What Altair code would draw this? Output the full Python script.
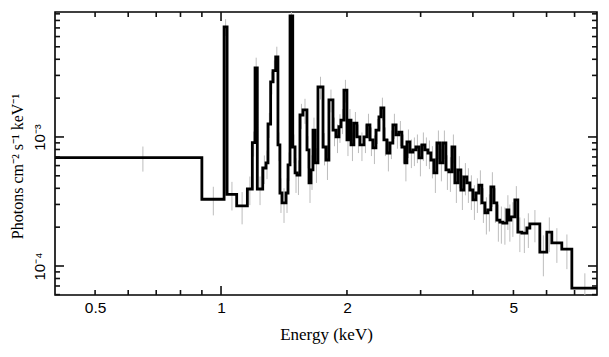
import math
import altair as alt
import pandas as pd

# Bin edges (keV) of the step spectrum
edges = [0.401, 0.90, 1.017, 1.034, 1.090, 1.156, 1.188, 1.206, 1.221, 1.258, 1.281,
         1.295, 1.314, 1.331, 1.351, 1.368, 1.383, 1.399, 1.430, 1.446, 1.462, 1.484,
         1.503, 1.519, 1.544, 1.570, 1.605, 1.623, 1.641, 1.659, 1.677, 1.705, 1.753,
         1.782, 1.811, 1.852, 1.883, 1.914, 1.935, 1.967, 2.000, 2.022, 2.045, 2.078,
         2.113, 2.148, 2.196, 2.233, 2.270, 2.307, 2.346, 2.385, 2.411, 2.451, 2.492,
         2.533, 2.575, 2.619, 2.662, 2.706, 2.751, 2.782, 2.828, 2.875, 2.923, 2.972,
         3.021, 3.071, 3.123, 3.175, 3.227, 3.281, 3.336, 3.391, 3.448, 3.505, 3.564,
         3.622, 3.683, 3.744, 3.807, 3.870, 3.934, 4.000, 4.067, 4.134, 4.203, 4.273,
         4.344, 4.416, 4.490, 4.564, 4.640, 4.718, 4.823, 4.876, 4.930, 5.039, 5.123,
         5.237, 5.383, 5.473, 5.782, 6.009, 6.176, 6.525, 6.896, 7.92]

# Flux per bin (photons cm^-2 s^-1 keV^-1)
flux = [6.91e-4, 3.29e-4, 7.12e-3, 3.59e-4, 2.92e-4, 3.95e-4, 9.03e-4, 3.43e-3, 3.95e-4, 5.75e-4,
        6.29e-4, 1.26e-3, 2.67e-3, 3.27e-3, 4.17e-3, 8.67e-4, 3.68e-4, 3.08e-4, 3.68e-4, 6.07e-4,
        8.67e-3, 8.36e-4, 5.26e-4, 5.07e-4, 1.48e-3, 1.62e-3, 7.93e-4, 4.40e-4, 5.55e-4, 1.13e-3,
        6.29e-4, 2.44e-3, 8.36e-4, 6.63e-4, 1.94e-3, 1.13e-3, 1.00e-3, 1.20e-3, 1.35e-3, 2.31e-3,
        9.48e-4, 1.35e-3, 8.67e-4, 1.28e-3, 1.00e-3, 8.67e-4, 1.00e-3, 1.24e-3, 9.48e-4, 8.22e-4,
        1.13e-3, 1.43e-3, 1.68e-3, 9.48e-4, 7.51e-4, 8.98e-4, 1.24e-3, 1.04e-3, 1.09e-3, 8.36e-4,
        6.29e-4, 9.15e-4, 7.65e-4, 7.93e-4, 8.36e-4, 6.88e-4, 8.67e-4, 7.93e-4, 7.51e-4, 6.63e-4,
        5.26e-4, 8.98e-4, 6.29e-4, 8.98e-4, 5.55e-4, 5.36e-4, 8.36e-4, 4.40e-4, 5.55e-4, 3.88e-4,
        4.90e-4, 4.40e-4, 3.88e-4, 3.25e-4, 3.68e-4, 4.24e-4, 3.08e-4, 2.58e-4, 2.72e-4, 4.10e-4,
        3.08e-4, 2.27e-4, 2.19e-4, 2.15e-4, 2.72e-4, 2.27e-4, 2.40e-4, 3.25e-4, 1.83e-4, 1.80e-4,
        1.97e-4, 2.12e-4, 1.28e-4, 1.83e-4, 1.51e-4, 1.35e-4, 6.75e-5]

# Relative 1-sigma error per bin
err = [0.22, 0.25, 0.15, 0.25, 0.28, 0.25, 0.22, 0.20, 0.25, 0.25,
       0.25, 0.22, 0.20, 0.20, 0.20, 0.25, 0.30, 0.30, 0.30, 0.25,
       0.12, 0.25, 0.30, 0.30, 0.22, 0.22, 0.28, 0.30, 0.30, 0.25,
       0.30, 0.20, 0.28, 0.30, 0.20, 0.25, 0.25, 0.25, 0.22, 0.20,
       0.25, 0.22, 0.25, 0.22, 0.25, 0.25, 0.25, 0.22, 0.25, 0.25,
       0.22, 0.20, 0.20, 0.25, 0.28, 0.25, 0.22, 0.22, 0.22, 0.25,
       0.28, 0.25, 0.25, 0.25, 0.25, 0.28, 0.25, 0.25, 0.25, 0.28,
       0.30, 0.25, 0.28, 0.25, 0.30, 0.30, 0.25, 0.30, 0.28, 0.30,
       0.28, 0.30, 0.30, 0.30, 0.30, 0.30, 0.30, 0.32, 0.32, 0.30,
       0.30, 0.32, 0.32, 0.32, 0.30, 0.32, 0.30, 0.28, 0.30, 0.30,
       0.30, 0.28, 0.35, 0.30, 0.30, 0.30, 0.30]

x_labels = [0.5, 1, 2, 5]
y_labels = [1e-4, 1e-3]
x_minor = [0.5, 0.6, 0.7, 0.8, 0.9, 2, 3, 4, 5, 6, 7]
x_major = [1]
y_minor = [6e-5, 7e-5, 8e-5, 9e-5, 2e-4, 3e-4, 4e-4, 5e-4, 6e-4, 7e-4, 8e-4, 9e-4,
           2e-3, 3e-3, 4e-3, 5e-3, 6e-3, 7e-3, 8e-3, 9e-3]
y_major = [1e-4, 1e-3]

X_MIN, X_MAX = 0.401, 7.92
Y_MIN, Y_MAX = 5.96e-5, 9.3e-3

n = len(flux)
line_df = pd.DataFrame({"E": edges, "F": flux + [flux[-1]]})
err_df = pd.DataFrame({
    "Em": [(edges[i] + edges[i + 1]) / 2 for i in range(n)],
    "lo": [flux[i] * (1 - err[i]) for i in range(n)],
    "hi": [flux[i] * (1 + err[i]) for i in range(n)],
})

W, H = 542, 283
xs = alt.Scale(type="log", domain=[X_MIN, X_MAX], nice=False)
ys = alt.Scale(type="log", domain=[Y_MIN, Y_MAX], nice=False)


# factor spanning a number of pixels on each log axis
def fx(px):
    return 10 ** (px * math.log10(X_MAX / X_MIN) / W)


def fy(px):
    return 10 ** (px * math.log10(Y_MAX / Y_MIN) / H)


MINOR, MAJOR = 5, 9

main = alt.Chart(line_df).mark_line(interpolate="step-after", color="black",
                                    strokeWidth=2.8, clip=True).encode(
    x=alt.X("E:Q", scale=xs, axis=alt.Axis(
        orient="bottom", values=x_labels, format="~g", ticks=False, domain=False,
        grid=False, title="Energy (keV)", labelPadding=5, titlePadding=11,
        labelFontSize=15.5, titleFontSize=17)),
    y=alt.Y("F:Q", scale=ys, axis=alt.Axis(
        orient="left", values=y_labels, ticks=False, domain=False, grid=False,
        labelExpr="datum.value < 0.0005 ? '10⁻⁴' : '10⁻³'",
        labelAngle=-90, labelAlign="center", labelBaseline="bottom",
        labelPadding=8, titlePadding=7, labelFontSize=15,
        titleFontSize=16, titleY=154,
        title="Photons cm⁻² s⁻¹ keV⁻¹")),
)

errbars = alt.Chart(err_df).mark_rule(color="#bdbdbd", strokeWidth=1, clip=True).encode(
    x=alt.X("Em:Q", scale=xs),
    y=alt.Y("lo:Q", scale=ys),
    y2="hi:Q",
)


def xticks(values, y0, y1):
    return alt.Chart(pd.DataFrame({"v": values})).mark_rule(
        color="#111111", strokeWidth=1.6).encode(
        x=alt.X("v:Q", scale=xs), y=alt.Y(datum=y0, scale=ys), y2=alt.Y2(datum=y1))


def yticks(values, x0, x1):
    return alt.Chart(pd.DataFrame({"v": values})).mark_rule(
        color="#111111", strokeWidth=1.6).encode(
        y=alt.Y("v:Q", scale=ys), x=alt.X(datum=x0, scale=xs), x2=alt.X2(datum=x1))


ticks = [
    xticks(x_minor, Y_MIN, Y_MIN * fy(MINOR)), xticks(x_major, Y_MIN, Y_MIN * fy(MAJOR)),
    xticks(x_minor, Y_MAX / fy(MINOR), Y_MAX), xticks(x_major, Y_MAX / fy(MAJOR), Y_MAX),
    yticks(y_minor, X_MIN, X_MIN * fx(MINOR)), yticks(y_major, X_MIN, X_MIN * fx(MAJOR)),
    yticks(y_minor, X_MAX / fx(MINOR), X_MAX), yticks(y_major, X_MAX / fx(MAJOR), X_MAX),
]

chart = alt.layer(errbars, main, *ticks).properties(
    width=W, height=H,
    padding={"left": 47, "top": 4, "right": 4, "bottom": 50},
    autosize=alt.AutoSizeParams(type="none"),
).configure_view(
    stroke="black", strokeWidth=1.6
).configure_axis(
    labelFont="Liberation Sans", labelColor="black",
    titleFont="Liberation Serif", titleFontWeight="normal", titleColor="black",
)

chart.save("out.html", embed_options={"renderer": "svg", "actions": False})
